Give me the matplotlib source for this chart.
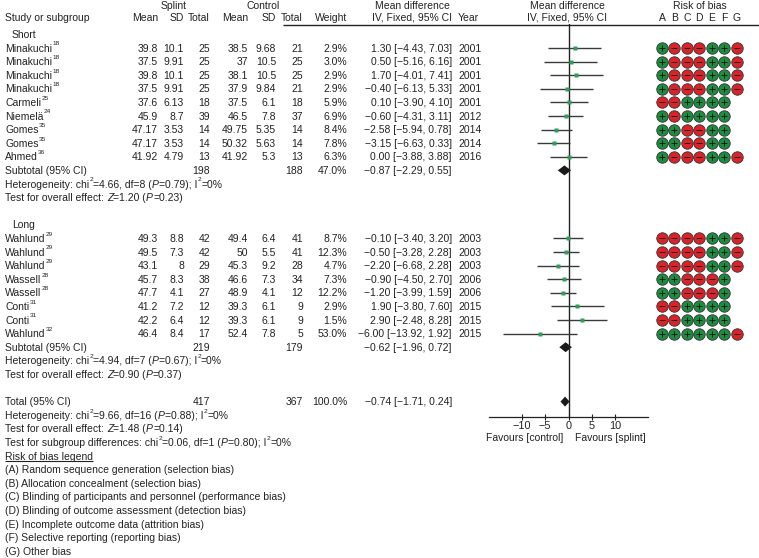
import re
import numpy as np
import matplotlib
matplotlib.use('Agg')
import matplotlib.pyplot as plt

plt.rcParams['font.family'] = ['Liberation Sans', 'DejaVu Sans']
plt.rcParams['axes.unicode_minus'] = True

# ---- data: short subgroup ----
short_name = ['Minakuchi', 'Minakuchi', 'Minakuchi', 'Minakuchi', 'Carmeli', 'Niemelä', 'Gomes', 'Gomes', 'Ahmed']
short_ref = ['18', '18', '18', '18', '25', '24', '35', '35', '36']
short_sp_mean = [39.8, 37.5, 39.8, 37.5, 37.6, 45.9, 47.17, 47.17, 41.92]
short_sp_sd = [10.1, 9.91, 10.1, 9.91, 6.13, 8.7, 3.53, 3.53, 4.79]
short_sp_n = [25, 25, 25, 25, 18, 39, 14, 14, 13]
short_ct_mean = [38.5, 37, 38.1, 37.9, 37.5, 46.5, 49.75, 50.32, 41.92]
short_ct_sd = [9.68, 10.5, 10.5, 9.84, 6.1, 7.8, 5.35, 5.63, 5.3]
short_ct_n = [21, 25, 25, 21, 18, 37, 14, 14, 13]
short_weight = [2.9, 3.0, 2.9, 2.9, 5.9, 6.9, 8.4, 7.8, 6.3]
short_md = [1.30, 0.50, 1.70, -0.40, 0.10, -0.60, -2.58, -3.15, 0.00]
short_lo = [-4.43, -5.16, -4.01, -6.13, -3.90, -4.31, -5.94, -6.63, -3.88]
short_hi = [7.03, 6.16, 7.41, 5.33, 4.10, 3.11, 0.78, 0.33, 3.88]
short_year = [2001, 2001, 2001, 2001, 2001, 2012, 2014, 2014, 2016]
short_rob = ['+---++-', '+---++-', '+---++-', '+---++-', '--++++',
             '+-++++', '++--++', '++--++', '+---++-']
short_sub_n = [198, 188]
short_sub_weight = '47.0%'
short_sub_md = [-0.87, -2.29, 0.55]
short_het = 'Heterogeneity: chi{^2}=4.66, df=8 ({/P}=0.79); I{^2}=0%'
short_test = 'Test for overall effect: {/Z}=1.20 ({/P}=0.23)'

# ---- data: long subgroup ----
long_name = ['Wahlund', 'Wahlund', 'Wahlund', 'Wassell', 'Wassell', 'Conti', 'Conti', 'Wahlund']
long_ref = ['29', '29', '29', '28', '28', '31', '31', '32']
long_sp_mean = [49.3, 49.5, 43.1, 45.7, 47.7, 41.2, 42.2, 46.4]
long_sp_sd = [8.8, 7.3, 8, 8.3, 4.1, 7.2, 6.4, 8.4]
long_sp_n = [42, 42, 29, 38, 27, 12, 12, 17]
long_ct_mean = [49.4, 50, 45.3, 46.6, 48.9, 39.3, 39.3, 52.4]
long_ct_sd = [6.4, 5.5, 9.2, 7.3, 4.1, 6.1, 6.1, 7.8]
long_ct_n = [41, 41, 28, 34, 12, 9, 9, 5]
long_weight = [8.7, 12.3, 4.7, 7.3, 12.2, 2.9, 1.5, 53.0]
long_md = [-0.10, -0.50, -2.20, -0.90, -1.20, 1.90, 2.90, -6.00]
long_lo = [-3.40, -3.28, -6.68, -4.50, -3.99, -3.80, -2.48, -13.92]
long_hi = [3.20, 2.28, 2.28, 2.70, 1.59, 7.60, 8.28, 1.92]
long_year = [2003, 2003, 2003, 2006, 2006, 2015, 2015, 2015]
long_rob = ['----++-', '----++-', '----++-', '++---+', '++---+',
            '--++++', '--++++', '++++++-']
long_sub_n = [219, 179]
long_sub_weight = ''
long_sub_md = [-0.62, -1.96, 0.72]
long_het = 'Heterogeneity: chi{^2}=4.94, df=7 ({/P}=0.67); I{^2}=0%'
long_test = 'Test for overall effect: {/Z}=0.90 ({/P}=0.37)'

# ---- overall ----
total_n = [417, 367]
total_weight = '100.0%'
total_md = [-0.74, -1.71, 0.24]
total_notes = ['Heterogeneity: chi{^2}=9.66, df=16 ({/P}=0.88); I{^2}=0%',
               'Test for overall effect: {/Z}=1.48 ({/P}=0.14)',
               'Test for subgroup differences: chi{^2}=0.06, df=1 ({/P}=0.80); I{^2}=0%']
rob_letters = ['A', 'B', 'C', 'D', 'E', 'F', 'G']
rob_legend = ['(A) Random sequence generation (selection bias)',
              '(B) Allocation concealment (selection bias)',
              '(C) Blinding of participants and personnel (performance bias)',
              '(D) Blinding of outcome assessment (detection bias)',
              '(E) Incomplete outcome data (attrition bias)',
              '(F) Selective reporting (reporting bias)',
              '(G) Other bias']
axis_ticks = [-10, -5, 0, 5, 10]

# ---- layout ----
W, H = 759, 558
FS = 7.5
TC = '#222222'
GREEN = '#1d8c41'
RED = '#d8232a'


def row_y(k):
    return 48 + 13.6 * k


def num(v):
    return f'{v:g}'


def signed(v):
    return f'{v:.2f}'.replace('-', '\u2212')


def ci_text(md, lo, hi):
    return f'{signed(md)} [{signed(lo)}, {signed(hi)}]'


fig = plt.figure(figsize=(W / 100, H / 100), dpi=100)
ax = fig.add_axes([0, 0, 1, 1])
ax.set_xlim(0, W)
ax.set_ylim(H, 0)
ax.axis('off')
renderer = fig.canvas.get_renderer()

fx = fig.add_axes([489 / W, 1 - 417 / H, 159 / W, (417 - 24) / H])
fx.set_xlim(-17, 17)
fx.set_ylim(417, 24)
fx.patch.set_alpha(0)
for s in ['top', 'left', 'right']:
    fx.spines[s].set_visible(False)
fx.spines['bottom'].set_color(TC)
fx.spines['bottom'].set_linewidth(0.9)
fx.set_yticks([])
fx.set_xticks(axis_ticks)
fx.tick_params(axis='x', direction='inout', length=4, width=0.8, color=TC,
               labelsize=FS + 0.3, labelcolor=TC, pad=1)
fx.axvline(0, color=TC, lw=1)


def txt(x, y, s, ha='left', **kw):
    return ax.text(x, y + 3.6, s, ha=ha, va='baseline', fontsize=FS, color=TC, **kw)


def width_of(s, **kw):
    # width in pixels (= data units of ax); the bar keeps trailing spaces counted
    t = ax.text(0, 0, s + '|', fontsize=kw.get('fontsize', FS), style=kw.get('style', 'normal'))
    b = ax.text(0, 0, '|', fontsize=kw.get('fontsize', FS))
    w = t.get_window_extent(renderer).width - b.get_window_extent(renderer).width
    t.remove()
    b.remove()
    return w


def rich(x, y, s):
    # '{^..}' superscript, '{/..}' italic
    parts = re.split(r'(\{[\^/][^}]*\})', s)
    for p in parts:
        if not p:
            continue
        if p.startswith('{^'):
            body = p[2:-1]
            fs = FS * 0.62
            ax.text(x + 0.3, y - 2.6, body, ha='left', va='baseline', fontsize=fs, color=TC)
            x += width_of(body, fontsize=fs) + 0.3
        elif p.startswith('{/'):
            body = p[2:-1]
            txt(x, y, body, style='italic')
            x += width_of(body, style='italic')
        else:
            txt(x, y, p)
            x += width_of(p)
    return x


# header
txt(174, 5, 'Splint', ha='center')
txt(263, 5, 'Control', ha='center')
txt(412, 5, 'Mean difference', ha='center')
txt(567, 5, 'Mean difference', ha='center')
txt(700, 5, 'Risk of bias', ha='center')
txt(5, 17, 'Study or subgroup')
col_x = [158, 184, 210, 248, 276, 303, 347]
for x, lab in zip(col_x, ['Mean', 'SD', 'Total', 'Mean', 'SD', 'Total', 'Weight']):
    txt(x, 17, lab, ha='right')
txt(412, 17, 'IV, Fixed, 95% CI', ha='center')
txt(458, 17, 'Year')
txt(567, 17, 'IV, Fixed, 95% CI', ha='center')
rob_x = [662 + 12.45 * j for j in range(7)]
for x, lab in zip(rob_x, rob_letters):
    txt(x, 17, lab, ha='center')
ax.hlines(24.5, 283, W, color=TC, lw=1)


def draw_group(k0, title, names, refs, spm, sps, spn, ctm, cts, ctn, wt, md, lo, hi, yr, rob,
               sub_n, sub_w, sub_md, het, test):
    txt(12, row_y(k0 - 1), title)
    for i in range(len(names)):
        y = row_y(k0 + i)
        rich(5, y, f'{names[i]}{{^{refs[i]}}}')
        vals = [num(spm[i]), num(sps[i]), str(spn[i]), num(ctm[i]), num(cts[i]), str(ctn[i]),
                f'{wt[i]:.1f}%']
        for x, v in zip(col_x, vals):
            txt(x, y, v, ha='right')
        txt(452, y, ci_text(md[i], lo[i], hi[i]), ha='right')
        txt(458, y, str(yr[i]))
        fx.hlines(y, lo[i], hi[i], color='#3a3a3a', lw=1)
        fx.plot(md[i], y, 's', color='#2f9d5c', ms=2.6, mec='none')
        for j, c in enumerate(rob[i]):
            ax.scatter(rob_x[j], y, s=68, color=GREEN if c == '+' else RED,
                       edgecolor='#333333', linewidth=0.6, zorder=3)
            ax.scatter(rob_x[j], y, s=14, marker='+' if c == '+' else '_',
                       color='#111111', linewidth=0.6, zorder=4)
    k = k0 + len(names)
    y = row_y(k)
    txt(5, y, 'Subtotal (95% CI)')
    txt(210, y, str(sub_n[0]), ha='right')
    txt(303, y, str(sub_n[1]), ha='right')
    txt(347, y, sub_w, ha='right')
    txt(452, y, ci_text(*sub_md), ha='right')
    fx.fill([sub_md[1], sub_md[0], sub_md[2], sub_md[0]], [y, y - 5, y, y + 5],
            color='#1a1a1a', lw=0)
    rich(5, row_y(k + 1), het)
    rich(5, row_y(k + 2), test)


draw_group(0, 'Short', short_name, short_ref, short_sp_mean, short_sp_sd, short_sp_n,
           short_ct_mean, short_ct_sd, short_ct_n, short_weight, short_md, short_lo, short_hi,
           short_year, short_rob, short_sub_n, short_sub_weight, short_sub_md, short_het, short_test)
draw_group(14, 'Long', long_name, long_ref, long_sp_mean, long_sp_sd, long_sp_n,
           long_ct_mean, long_ct_sd, long_ct_n, long_weight, long_md, long_lo, long_hi,
           long_year, long_rob, long_sub_n, long_sub_weight, long_sub_md, long_het, long_test)

# overall
y = row_y(26)
txt(5, y, 'Total (95% CI)')
txt(210, y, str(total_n[0]), ha='right')
txt(303, y, str(total_n[1]), ha='right')
txt(347, y, total_weight, ha='right')
txt(452, y, ci_text(*total_md), ha='right')
fx.fill([total_md[1], total_md[0], total_md[2], total_md[0]], [y, y - 5, y, y + 5],
        color='#1a1a1a', lw=0)
for i, s in enumerate(total_notes):
    rich(5, row_y(27 + i), s)

txt(563, 437.5, 'Favours [control]', ha='right')
txt(575, 437.5, 'Favours [splint]')

leg = txt(5, row_y(30), 'Risk of bias legend')
for i, s in enumerate(rob_legend):
    txt(5, row_y(31 + i), s)

bb = leg.get_window_extent(renderer).transformed(ax.transData.inverted())
ax.hlines(row_y(30) + 5.2, bb.x0, bb.x1, color=TC, lw=0.8)

fig.savefig('out.png', dpi=100)
